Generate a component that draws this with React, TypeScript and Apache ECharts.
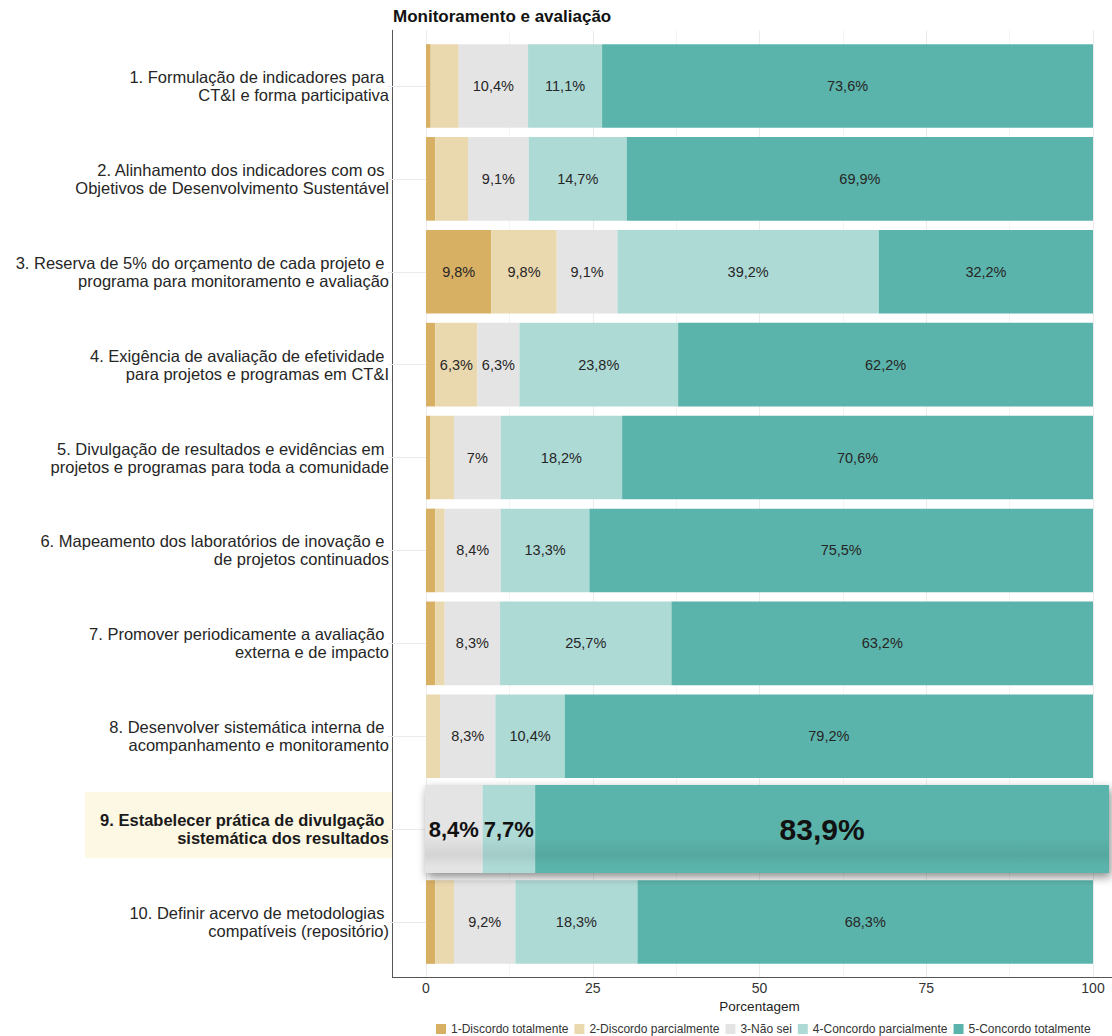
import React, { useEffect, useRef } from "react";
import * as echarts from "echarts";

const categories = [
  "1. Formulação de indicadores para \nCT&I e forma participativa",
  "2. Alinhamento dos indicadores com os \nObjetivos de Desenvolvimento Sustentável",
  "3. Reserva de 5% do orçamento de cada projeto e \nprograma para monitoramento e avaliação",
  "4. Exigência de avaliação de efetividade \npara projetos e programas em CT&I",
  "5. Divulgação de resultados e evidências em \nprojetos e programas para toda a comunidade",
  "6. Mapeamento dos laboratórios de inovação e \nde projetos continuados",
  "7. Promover periodicamente a avaliação \nexterna e de impacto",
  "8. Desenvolver sistemática interna de \nacompanhamento e monitoramento",
  "9. Estabelecer prática de divulgação \nsistemática dos resultados",
  "10. Definir acervo de metodologias \ncompatíveis (repositório)",
];

const seriesNames = [
  "1-Discordo totalmente",
  "2-Discordo parcialmente",
  "3-Não sei",
  "4-Concordo parcialmente",
  "5-Concordo totalmente",
];

const discordoTotalmente = [0.7, 1.4, 9.8, 1.4, 0.6, 1.4, 1.4, 0, 0, 1.4];
const discordoParcialmente = [4.2, 4.9, 9.8, 6.3, 3.6, 1.4, 1.4, 2.1, 0, 2.8];
const naoSei = [10.4, 9.1, 9.1, 6.3, 7, 8.4, 8.3, 8.3, 8.4, 9.2];
const concordoParcialmente = [11.1, 14.7, 39.2, 23.8, 18.2, 13.3, 25.7, 10.4, 7.7, 18.3];
const concordoTotalmente = [73.6, 69.9, 32.2, 62.2, 70.6, 75.5, 63.2, 79.2, 83.9, 68.3];

const xTicks = [0, 25, 50, 75, 100];

const highlightIndex = 8;

const colors = ["#D8B064", "#EAD8AF", "#E4E4E4", "#AEDAD6", "#5BB4AB"];
const FONT = "'Liberation Sans', Arial, Helvetica, sans-serif";

const fmt = (v: number) =>
  (Number.isInteger(v) ? String(v) : v.toFixed(1)).replace(".", ",") + "%";

export default function App() {
  const ref = useRef<HTMLDivElement>(null);

  useEffect(() => {
    if (!ref.current) return;
    const chart = echarts.init(ref.current, null, { renderer: "svg" });
    const values = [
      discordoTotalmente,
      discordoParcialmente,
      naoSei,
      concordoParcialmente,
      concordoTotalmente,
    ];

    // overlay (magnified row) box
    const ov = { left: 425, right: 1109, top: 785, height: 88 };

    const mainSeries = values.map((arr, s) => ({
      name: seriesNames[s],
      type: "bar",
      stack: "total",
      xAxisIndex: 0,
      yAxisIndex: 0,
      barWidth: "90%",
      z: 2,
      itemStyle: { color: colors[s] },
      label: {
        show: true,
        position: "inside",
        color: "#262626",
        fontSize: 14.5,
        fontFamily: FONT,
        formatter: (p: any) => fmt(p.value),
      },
      data: arr.map((v, i) => ({
        value: v,
        label: { show: v >= 5 && i !== highlightIndex },
      })),
    }));

    const overlaySeries = values.map((arr, s) => ({
      name: seriesNames[s],
      type: "bar",
      stack: "overlay",
      xAxisIndex: 3,
      yAxisIndex: 3,
      barWidth: "100%",
      z: 10,
      itemStyle: { color: colors[s] },
      label: {
        show: arr[highlightIndex] > 0,
        position: "inside",
        color: "#111111",
        fontWeight: "bold",
        fontSize: s === 4 ? 30 : 22,
        fontFamily: FONT,
        formatter: (p: any) => fmt(p.value),
      },
      data: [arr[highlightIndex]],
    }));

    const option: any = {
      animation: false,
      textStyle: { fontFamily: FONT },
      title: {
        text: "Monitoramento e avaliação",
        left: 393,
        top: 8,
        padding: 0,
        textStyle: { fontSize: 17, fontWeight: "bold", color: "#111", fontFamily: FONT },
      },
      legend: {
        data: seriesNames,
        left: 436,
        top: 1023,
        padding: 0,
        itemWidth: 10,
        itemHeight: 10,
        itemGap: 6,
        icon: "rect",
        selectedMode: false,
        textStyle: { fontSize: 12, color: "#333", fontFamily: FONT },
      },
      grid: [
        { left: 426, right: 19, top: 39.5, bottom: 67.5 },
        { left: 426, right: 19, top: 30.3, bottom: 58.3 },
        { left: 392.6, right: 0, top: 30.3, bottom: 58.3 },
        { left: ov.left, right: 1112 - ov.right, top: ov.top, height: ov.height },
      ],
      xAxis: [
        {
          gridIndex: 0,
          type: "value",
          min: xTicks[0],
          max: xTicks[xTicks.length - 1],
          interval: 25,
          axisLine: { show: false },
          axisTick: { show: false },
          splitLine: { show: false },
          axisLabel: { fontSize: 14, color: "#333", margin: 12.5, fontFamily: FONT },
          name: "Porcentagem",
          nameLocation: "middle",
          nameGap: 28.5,
          nameTextStyle: { fontSize: 13.5, color: "#222", fontFamily: FONT },
        },
        {
          gridIndex: 1,
          type: "value",
          min: 0,
          max: 100,
          interval: 25,
          axisLine: { show: false },
          axisTick: { show: false },
          axisLabel: { show: false },
          minorTick: { show: false, splitNumber: 2 },
          splitLine: { show: true, lineStyle: { color: "#EBEBEB", width: 1 } },
          minorSplitLine: { show: true, lineStyle: { color: "#F4F4F4", width: 1 } },
        },
        {
          gridIndex: 2,
          type: "value",
          min: 0,
          max: 1,
          axisLine: { show: true, onZero: false, lineStyle: { color: "#555", width: 1 } },
          axisTick: { show: false },
          axisLabel: { show: false },
          splitLine: { show: false },
        },
        { gridIndex: 3, type: "value", min: 0, max: 100, show: false },
      ],
      yAxis: [
        {
          gridIndex: 0,
          type: "category",
          data: categories,
          inverse: true,
          axisLine: { show: false },
          axisTick: {
            show: true,
            alignWithLabel: true,
            length: 38,
            lineStyle: { color: "#EBEBEB" },
          },
          axisLabel: {
            margin: 37,
            fontSize: 16.5,
            lineHeight: 18,
            color: "#262626",
            fontFamily: FONT,
            formatter: (val: string, idx: number) => {
              if (idx === highlightIndex) {
                return val
                  .split("\n")
                  .map((l) => "{hl|" + l + "}")
                  .join("\n");
              }
              return val;
            },
            rich: {
              hl: {
                fontWeight: "bold",
                fontSize: 16.5,
                lineHeight: 18,
                color: "#1a1a1a",
                fontFamily: FONT,
              },
            },
          },
        },
        {
          gridIndex: 1,
          type: "value",
          min: 0,
          max: 1,
          show: false,
        },
        {
          gridIndex: 2,
          type: "value",
          min: 0,
          max: 1,
          axisLine: { show: true, onZero: false, lineStyle: { color: "#555", width: 1 } },
          axisTick: { show: false },
          axisLabel: { show: false },
          splitLine: { show: false },
        },
        {
          gridIndex: 3,
          type: "category",
          data: [categories[highlightIndex]],
          show: false,
        },
      ],
      graphic: [
        {
          type: "rect",
          z: 0,
          silent: true,
          shape: { x: 85, y: 792, width: 307, height: 66 },
          style: { fill: "#FDF8E4" },
        },
        {
          type: "rect",
          z: 9,
          silent: true,
          shape: { x: ov.left, y: ov.top, width: ov.right - ov.left, height: ov.height },
          style: {
            fill: "#ffffff",
            shadowBlur: 10,
            shadowOffsetX: 2,
            shadowOffsetY: 4,
            shadowColor: "rgba(0,0,0,0.45)",
          },
        },
        {
          type: "rect",
          z: 11,
          silent: true,
          shape: { x: ov.left, y: ov.top + 52, width: ov.right - ov.left, height: 30 },
          style: {
            fill: new echarts.graphic.LinearGradient(0, 0, 0, 1, [
              { offset: 0, color: "rgba(0,0,0,0)" },
              { offset: 0.6, color: "rgba(0,0,0,0.07)" },
              { offset: 1, color: "rgba(0,0,0,0)" },
            ]),
          },
        },
      ],
      series: [...mainSeries, ...overlaySeries],
    };

    chart.setOption(option);
    return () => chart.dispose();
  }, []);

  return (
    <div
      ref={ref}
      style={{ position: "fixed", left: 0, top: 0, width: 1112, height: 1036, background: "#fff" }}
    />
  );
}
